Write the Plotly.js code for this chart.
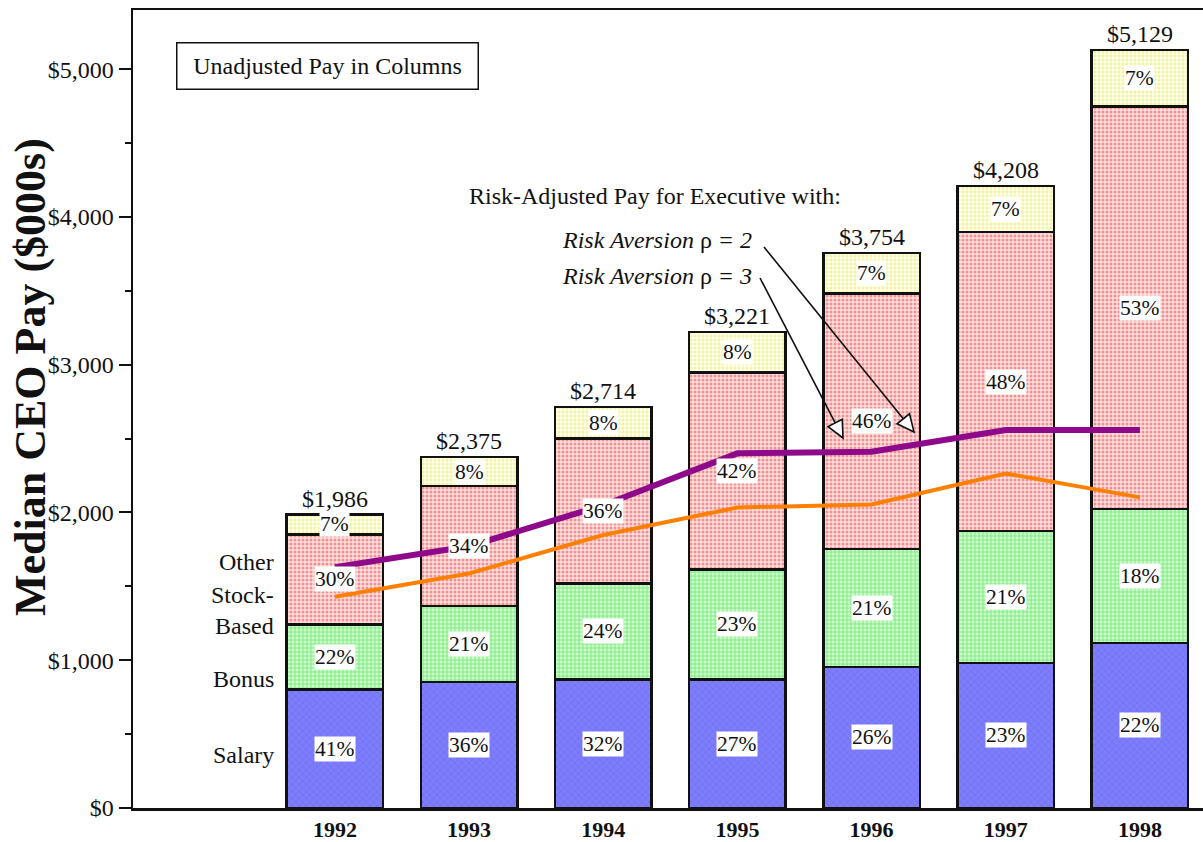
<!DOCTYPE html>
<html>
<head>
<meta charset="utf-8">
<script src="https://cdn.plot.ly/plotly-3.0.1.min.js"></script>
<style>html,body{margin:0;padding:0;background:#fff;}#chart{width:1203px;height:842px;}</style>
</head>
<body>
<div id="chart"></div>
<script>
// ---- Data ($000s) ----
const years = [1992, 1993, 1994, 1995, 1996, 1997, 1998];
const yearLabels = ['1992', '1993', '1994', '1995', '1996', '1997', '1998'];
const salary = [802, 853, 871, 871, 955, 982, 1117];
const bonus = [440, 513, 648, 743, 797, 893, 905];
const stockBased = [609, 812, 982, 1334, 1731, 2022, 2724];
const other = [135, 197, 213, 273, 271, 311, 383];
const totals = [1986, 2375, 2714, 3221, 3754, 4208, 5129];
const salaryPct = [41, 36, 32, 27, 26, 23, 22];
const bonusPct = [22, 21, 24, 23, 21, 21, 18];
const stockPct = [30, 34, 36, 42, 46, 48, 53];
const otherPct = [7, 8, 8, 8, 7, 7, 7];
const riskAdjRho2 = [1630, 1771, 2049, 2400, 2411, 2558, 2558];
const riskAdjRho3 = [1429, 1587, 1847, 2034, 2054, 2264, 2102];

const FONT = 'Liberation Serif, Times New Roman, serif';

// geometry helpers (pixel -> data) for annotation/arrow placement
const W = 1203, H = 842, ML = 133, MR = 0, MT = 10, MB = 34;
const XR = [1990.495, 1998.47], YR = [0, 5400];
const pxX = p => XR[0] + (p - ML) * (XR[1] - XR[0]) / (W - ML - MR);
const pxY = p => YR[0] + (H - MB - p) * (YR[1] - YR[0]) / (H - MT - MB);
const paperX = p => (p - ML) / (W - ML - MR);
const paperY = p => (H - MB - p) / (H - MT - MB);

const barW = 0.72;
function barTrace(name, vals, bg, fg, shape, size, sol) {
  return {
    type: 'bar', name: name, x: years, y: vals, width: barW,
    marker: {
      color: bg,
      line: {color: '#111', width: 2.5},
      pattern: {shape: shape, bgcolor: bg, fgcolor: fg, size: size, solidity: sol, fillmode: 'replace'}
    },
    hoverinfo: 'skip', showlegend: false
  };
}

const traces = [
  barTrace('Salary', salary, '#7e7efc', '#6c6cf2', 'x', 5, 0.25),
  barTrace('Bonus', bonus, '#cdf9cd', '#6ee86e', '+', 4, 0.35),
  barTrace('Stock-Based', stockBased, '#fbe0e0', '#f09090', '.', 4, 0.45),
  barTrace('Other', other, '#fffff0', '#f2f2a0', '.', 4, 0.45),
  {type: 'scatter', mode: 'lines', x: years, y: riskAdjRho2, line: {color: '#8e0a8b', width: 6}, showlegend: false, hoverinfo: 'skip'},
  {type: 'scatter', mode: 'lines', x: years, y: riskAdjRho3, line: {color: '#ff8000', width: 4}, showlegend: false, hoverinfo: 'skip'}
];

const annotations = [];
// percentage labels centred in each segment
const segs = [[salary, salaryPct], [bonus, bonusPct], [stockBased, stockPct], [other, otherPct]];
years.forEach((yr, i) => {
  let base = 0;
  segs.forEach(([vals, pcts]) => {
    const mid = base + vals[i] / 2;
    base += vals[i];
    annotations.push({x: yr, y: mid, text: pcts[i] + '%', showarrow: false,
      font: {family: FONT, size: 21.5, color: '#111'}, bgcolor: '#ffffff', borderpad: 0});
  });
  annotations.push({x: yr, y: totals[i], yanchor: 'bottom', yshift: 1,
    text: '$' + totals[i].toLocaleString('en-US'), showarrow: false,
    font: {family: FONT, size: 24, color: '#111'}});
});

// left-side component labels
[['Other', 562], ['Stock-<br>Based', 610], ['Bonus', 679], ['Salary', 755]].forEach(([t, py]) => {
  annotations.push({x: pxX(276), y: pxY(py), xanchor: 'right', text: t, showarrow: false,
    align: 'right', font: {family: FONT, size: 24, color: '#111', lineheight: 1.1}});
});

// y-axis title (placed as rotated text)
annotations.push({xref: 'paper', yref: 'paper', x: paperX(30), y: paperY(377), textangle: -90,
  xanchor: 'center', yanchor: 'middle',
  text: '<b>Median CEO Pay ($000s)</b>', showarrow: false,
  font: {family: FONT, size: 44, color: '#111'}});

// boxed note
annotations.push({x: pxX(327), y: pxY(65.5), text: 'Unadjusted Pay in Columns', showarrow: false,
  font: {family: FONT, size: 24, color: '#111'}, bordercolor: '#111', borderwidth: 1.5,
  width: 298, height: 43, borderpad: 1, bgcolor: '#fff'});

annotations.push({x: pxX(655), y: pxY(196), text: 'Risk-Adjusted Pay for Executive with:', showarrow: false,
  font: {family: FONT, size: 24, color: '#111'}});
annotations.push({x: pxX(657), y: pxY(240), text: '<i>Risk Aversion </i>ρ<i> = 2</i>', showarrow: false,
  font: {family: FONT, size: 24, color: '#111'}});
annotations.push({x: pxX(657), y: pxY(276), text: '<i>Risk Aversion </i>ρ<i> = 3</i>', showarrow: false,
  font: {family: FONT, size: 24, color: '#111'}});

// arrows with open triangular heads
const shapes = [];
function arrow(sx, sy, tx, ty) {
  const dx = tx - sx, dy = ty - sy, len = Math.hypot(dx, dy);
  const ux = dx / len, uy = dy / len;
  const bx = tx - 17 * ux, by = ty - 17 * uy;
  const hw = 8;
  const p1 = [bx - hw * uy, by + hw * ux], p2 = [bx + hw * uy, by - hw * ux];
  shapes.push({type: 'line', xref: 'x', yref: 'y', x0: pxX(sx), y0: pxY(sy), x1: pxX(bx), y1: pxY(by),
    line: {color: '#111', width: 1.6}});
  shapes.push({type: 'path', xref: 'x', yref: 'y',
    path: `M ${pxX(tx)},${pxY(ty)} L ${pxX(p1[0])},${pxY(p1[1])} L ${pxX(p2[0])},${pxY(p2[1])} Z`,
    fillcolor: '#fff', line: {color: '#111', width: 1.6}});
}
arrow(764, 247, 914, 432);
arrow(760, 278, 843, 438);

const layout = {
  width: W, height: H,
  margin: {l: ML, r: MR, t: MT, b: MB},
  paper_bgcolor: '#fff', plot_bgcolor: '#fff',
  barmode: 'stack', showlegend: false,
  font: {family: FONT, color: '#111'},
  xaxis: {
    range: XR, tickmode: 'array', tickvals: years, ticktext: yearLabels.map(s => '<b>' + s + '</b>'),
    showgrid: false, zeroline: false, showline: true, linecolor: '#111', linewidth: 2.5, mirror: true,
    ticks: '', tickfont: {family: FONT, size: 22, color: '#111'}, fixedrange: true
  },
  yaxis: {
    range: YR, tickmode: 'linear', tick0: 0, dtick: 1000, tickprefix: '$', tickformat: ',d',
    showgrid: false, zeroline: false, showline: true, linecolor: '#111', linewidth: 2.5,
    ticks: 'outside', ticklen: 12, tickwidth: 2, tickcolor: '#111',
    minor: {dtick: 500, ticks: 'outside', ticklen: 6, tickwidth: 2, tickcolor: '#111', showgrid: false},
    tickfont: {family: FONT, size: 24, color: '#111'},
    automargin: false, fixedrange: true
  },
  annotations: annotations,
  shapes: shapes
};

Plotly.newPlot('chart', traces, layout, {displayModeBar: false, staticPlot: true});
</script>
</body>
</html>
